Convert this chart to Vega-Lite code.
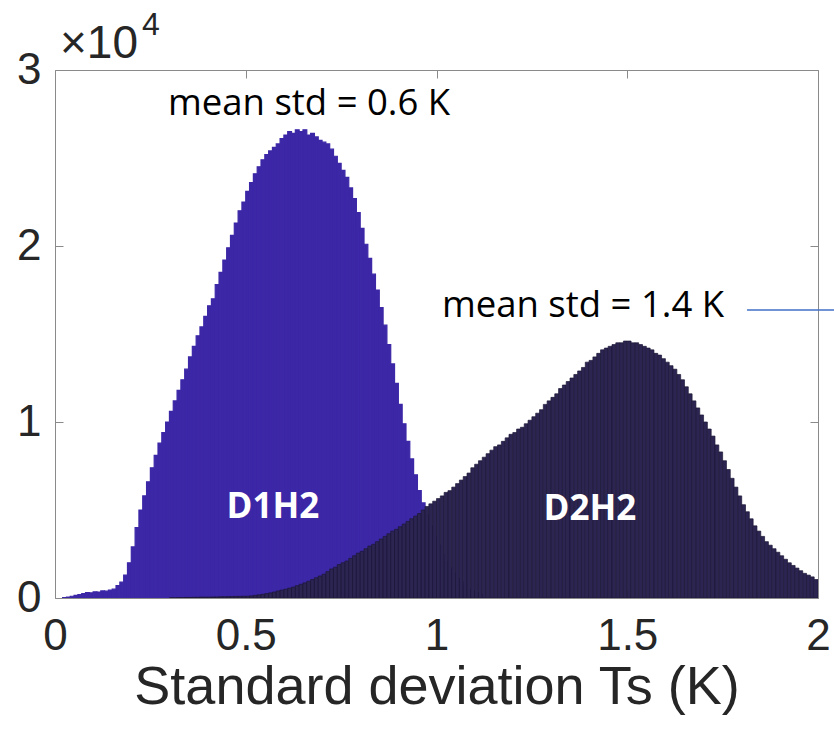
{
  "$schema": "https://vega.github.io/schema/vega-lite/v6.json",
  "width": 763,
  "height": 528,
  "autosize": {"type": "none"},
  "padding": {"left": 55, "top": 70, "right": 16, "bottom": 138},
  "background": "white",
  "config": {
    "view": {"stroke": "#8a8a8a", "strokeWidth": 1},
    "axis": {"grid": false, "domain": false, "tickColor": "#8a8a8a", "tickSize": -8, "tickWidth": 1,
      "labelFont": "Liberation Sans", "labelFontSize": 44, "labelColor": "#262626",
      "titleFont": "Liberation Sans", "titleFontSize": 54, "titleFontWeight": "normal", "titleColor": "#262626"}
  },
  "datasets": {
    "d1": [
      {"x0":0.02,"x1":0.03,"n":20},{"x0":0.03,"x1":0.04,"n":50},{"x0":0.04,"x1":0.05,"n":100},{"x0":0.05,"x1":0.06,"n":150},
      {"x0":0.06,"x1":0.07,"n":200},{"x0":0.07,"x1":0.08,"n":250},{"x0":0.08,"x1":0.09,"n":300},{"x0":0.09,"x1":0.10,"n":290},
      {"x0":0.10,"x1":0.11,"n":350},{"x0":0.11,"x1":0.12,"n":340},{"x0":0.12,"x1":0.13,"n":400},{"x0":0.13,"x1":0.14,"n":390},
      {"x0":0.14,"x1":0.15,"n":450},{"x0":0.15,"x1":0.16,"n":500},{"x0":0.16,"x1":0.17,"n":700},{"x0":0.17,"x1":0.18,"n":900},
      {"x0":0.18,"x1":0.19,"n":1300},{"x0":0.19,"x1":0.20,"n":2000},{"x0":0.20,"x1":0.21,"n":2900},{"x0":0.21,"x1":0.22,"n":4000},
      {"x0":0.22,"x1":0.23,"n":5000},{"x0":0.23,"x1":0.24,"n":5800},{"x0":0.24,"x1":0.25,"n":6600},{"x0":0.25,"x1":0.26,"n":7400},
      {"x0":0.26,"x1":0.27,"n":8100},{"x0":0.27,"x1":0.28,"n":8800},{"x0":0.28,"x1":0.29,"n":9400},{"x0":0.29,"x1":0.30,"n":10000},
      {"x0":0.30,"x1":0.31,"n":10600},{"x0":0.31,"x1":0.32,"n":11200},{"x0":0.32,"x1":0.33,"n":11800},{"x0":0.33,"x1":0.34,"n":12400},
      {"x0":0.34,"x1":0.35,"n":13000},{"x0":0.35,"x1":0.36,"n":13700},{"x0":0.36,"x1":0.37,"n":14300},{"x0":0.37,"x1":0.38,"n":14900},
      {"x0":0.38,"x1":0.39,"n":15400},{"x0":0.39,"x1":0.40,"n":16000},{"x0":0.40,"x1":0.41,"n":16600},{"x0":0.41,"x1":0.42,"n":17000},
      {"x0":0.42,"x1":0.43,"n":17800},{"x0":0.43,"x1":0.44,"n":18500},{"x0":0.44,"x1":0.45,"n":19200},{"x0":0.45,"x1":0.46,"n":19900},
      {"x0":0.46,"x1":0.47,"n":20600},{"x0":0.47,"x1":0.48,"n":21300},{"x0":0.48,"x1":0.49,"n":22000},{"x0":0.49,"x1":0.50,"n":22500},
      {"x0":0.50,"x1":0.51,"n":23100},{"x0":0.51,"x1":0.52,"n":23600},{"x0":0.52,"x1":0.53,"n":24100},{"x0":0.53,"x1":0.54,"n":24500},
      {"x0":0.54,"x1":0.55,"n":24900},{"x0":0.55,"x1":0.56,"n":25200},{"x0":0.56,"x1":0.57,"n":25400},{"x0":0.57,"x1":0.58,"n":25600},
      {"x0":0.58,"x1":0.59,"n":25800},{"x0":0.59,"x1":0.60,"n":26100},{"x0":0.60,"x1":0.61,"n":26300},{"x0":0.61,"x1":0.62,"n":26500},
      {"x0":0.62,"x1":0.63,"n":26400},{"x0":0.63,"x1":0.64,"n":26600},{"x0":0.64,"x1":0.65,"n":26500},{"x0":0.65,"x1":0.66,"n":26600},
      {"x0":0.66,"x1":0.67,"n":26300},{"x0":0.67,"x1":0.68,"n":26400},{"x0":0.68,"x1":0.69,"n":26200},{"x0":0.69,"x1":0.70,"n":26000},
      {"x0":0.70,"x1":0.71,"n":25900},{"x0":0.71,"x1":0.72,"n":25800},{"x0":0.72,"x1":0.73,"n":25500},{"x0":0.73,"x1":0.74,"n":25100},
      {"x0":0.74,"x1":0.75,"n":24700},{"x0":0.75,"x1":0.76,"n":24300},{"x0":0.76,"x1":0.77,"n":23900},{"x0":0.77,"x1":0.78,"n":23300},
      {"x0":0.78,"x1":0.79,"n":22700},{"x0":0.79,"x1":0.80,"n":21900},{"x0":0.80,"x1":0.81,"n":21000},{"x0":0.81,"x1":0.82,"n":20100},
      {"x0":0.82,"x1":0.83,"n":19300},{"x0":0.83,"x1":0.84,"n":18400},{"x0":0.84,"x1":0.85,"n":17500},{"x0":0.85,"x1":0.86,"n":16500},
      {"x0":0.86,"x1":0.87,"n":15500},{"x0":0.87,"x1":0.88,"n":14400},{"x0":0.88,"x1":0.89,"n":13300},{"x0":0.89,"x1":0.90,"n":12200},
      {"x0":0.90,"x1":0.91,"n":11000},{"x0":0.91,"x1":0.92,"n":9900},{"x0":0.92,"x1":0.93,"n":8900},{"x0":0.93,"x1":0.94,"n":7900},
      {"x0":0.94,"x1":0.95,"n":7000},{"x0":0.95,"x1":0.96,"n":6100},{"x0":0.96,"x1":0.97,"n":5400},{"x0":0.97,"x1":0.98,"n":4700},
      {"x0":0.98,"x1":0.99,"n":4100},{"x0":0.99,"x1":1.00,"n":3500},{"x0":1.00,"x1":1.01,"n":3000},{"x0":1.01,"x1":1.02,"n":2500},
      {"x0":1.02,"x1":1.03,"n":2100},{"x0":1.03,"x1":1.04,"n":1700},{"x0":1.04,"x1":1.05,"n":1400},{"x0":1.05,"x1":1.06,"n":1100},
      {"x0":1.06,"x1":1.07,"n":900},{"x0":1.07,"x1":1.08,"n":700},{"x0":1.08,"x1":1.09,"n":500},{"x0":1.09,"x1":1.10,"n":400},
      {"x0":1.10,"x1":1.11,"n":300},{"x0":1.11,"x1":1.12,"n":200}
    ],
    "d2": [
      {"x0":0.30,"x1":0.31,"n":10},{"x0":0.31,"x1":0.32,"n":10},{"x0":0.32,"x1":0.33,"n":20},{"x0":0.33,"x1":0.34,"n":20},
      {"x0":0.34,"x1":0.35,"n":30},{"x0":0.35,"x1":0.36,"n":30},{"x0":0.36,"x1":0.37,"n":40},{"x0":0.37,"x1":0.38,"n":40},
      {"x0":0.38,"x1":0.39,"n":50},{"x0":0.39,"x1":0.40,"n":50},{"x0":0.40,"x1":0.41,"n":50},{"x0":0.41,"x1":0.42,"n":60},
      {"x0":0.42,"x1":0.43,"n":60},{"x0":0.43,"x1":0.44,"n":70},{"x0":0.44,"x1":0.45,"n":70},{"x0":0.45,"x1":0.46,"n":80},
      {"x0":0.46,"x1":0.47,"n":80},{"x0":0.47,"x1":0.48,"n":90},{"x0":0.48,"x1":0.49,"n":90},{"x0":0.49,"x1":0.50,"n":100},
      {"x0":0.50,"x1":0.51,"n":100},{"x0":0.51,"x1":0.52,"n":120},{"x0":0.52,"x1":0.53,"n":150},{"x0":0.53,"x1":0.54,"n":180},
      {"x0":0.54,"x1":0.55,"n":210},{"x0":0.55,"x1":0.56,"n":250},{"x0":0.56,"x1":0.57,"n":290},{"x0":0.57,"x1":0.58,"n":340},
      {"x0":0.58,"x1":0.59,"n":400},{"x0":0.59,"x1":0.60,"n":450},{"x0":0.60,"x1":0.61,"n":500},{"x0":0.61,"x1":0.62,"n":560},
      {"x0":0.62,"x1":0.63,"n":620},{"x0":0.63,"x1":0.64,"n":700},{"x0":0.64,"x1":0.65,"n":780},{"x0":0.65,"x1":0.66,"n":860},
      {"x0":0.66,"x1":0.67,"n":950},{"x0":0.67,"x1":0.68,"n":1050},{"x0":0.68,"x1":0.69,"n":1150},{"x0":0.69,"x1":0.70,"n":1250},
      {"x0":0.70,"x1":0.71,"n":1350},{"x0":0.71,"x1":0.72,"n":1500},{"x0":0.72,"x1":0.73,"n":1650},{"x0":0.73,"x1":0.74,"n":1750},
      {"x0":0.74,"x1":0.75,"n":1900},{"x0":0.75,"x1":0.76,"n":2000},{"x0":0.76,"x1":0.77,"n":2100},{"x0":0.77,"x1":0.78,"n":2250},
      {"x0":0.78,"x1":0.79,"n":2400},{"x0":0.79,"x1":0.80,"n":2550},{"x0":0.80,"x1":0.81,"n":2650},{"x0":0.81,"x1":0.82,"n":2800},
      {"x0":0.82,"x1":0.83,"n":2950},{"x0":0.83,"x1":0.84,"n":3050},{"x0":0.84,"x1":0.85,"n":3200},{"x0":0.85,"x1":0.86,"n":3350},
      {"x0":0.86,"x1":0.87,"n":3500},{"x0":0.87,"x1":0.88,"n":3650},{"x0":0.88,"x1":0.89,"n":3800},{"x0":0.89,"x1":0.90,"n":3900},
      {"x0":0.90,"x1":0.91,"n":4050},{"x0":0.91,"x1":0.92,"n":4200},{"x0":0.92,"x1":0.93,"n":4350},{"x0":0.93,"x1":0.94,"n":4500},
      {"x0":0.94,"x1":0.95,"n":4650},{"x0":0.95,"x1":0.96,"n":4800},{"x0":0.96,"x1":0.97,"n":5000},{"x0":0.97,"x1":0.98,"n":5200},
      {"x0":0.98,"x1":0.99,"n":5350},{"x0":0.99,"x1":1.00,"n":5500},{"x0":1.00,"x1":1.01,"n":5650},{"x0":1.01,"x1":1.02,"n":5800},
      {"x0":1.02,"x1":1.03,"n":6000},{"x0":1.03,"x1":1.04,"n":6100},{"x0":1.04,"x1":1.05,"n":6300},{"x0":1.05,"x1":1.06,"n":6500},
      {"x0":1.06,"x1":1.07,"n":6700},{"x0":1.07,"x1":1.08,"n":6900},{"x0":1.08,"x1":1.09,"n":7100},{"x0":1.09,"x1":1.10,"n":7400},
      {"x0":1.10,"x1":1.11,"n":7600},{"x0":1.11,"x1":1.12,"n":7800},{"x0":1.12,"x1":1.13,"n":8000},{"x0":1.13,"x1":1.14,"n":8200},
      {"x0":1.14,"x1":1.15,"n":8400},{"x0":1.15,"x1":1.16,"n":8600},{"x0":1.16,"x1":1.17,"n":8700},{"x0":1.17,"x1":1.18,"n":8900},
      {"x0":1.18,"x1":1.19,"n":9100},{"x0":1.19,"x1":1.20,"n":9300},{"x0":1.20,"x1":1.21,"n":9400},{"x0":1.21,"x1":1.22,"n":9600},
      {"x0":1.22,"x1":1.23,"n":9700},{"x0":1.23,"x1":1.24,"n":9900},{"x0":1.24,"x1":1.25,"n":10100},{"x0":1.25,"x1":1.26,"n":10300},
      {"x0":1.26,"x1":1.27,"n":10500},{"x0":1.27,"x1":1.28,"n":10700},{"x0":1.28,"x1":1.29,"n":11000},{"x0":1.29,"x1":1.30,"n":11200},
      {"x0":1.30,"x1":1.31,"n":11400},{"x0":1.31,"x1":1.32,"n":11600},{"x0":1.32,"x1":1.33,"n":11900},{"x0":1.33,"x1":1.34,"n":12100},
      {"x0":1.34,"x1":1.35,"n":12300},{"x0":1.35,"x1":1.36,"n":12500},{"x0":1.36,"x1":1.37,"n":12700},{"x0":1.37,"x1":1.38,"n":12900},
      {"x0":1.38,"x1":1.39,"n":13100},{"x0":1.39,"x1":1.40,"n":13400},{"x0":1.40,"x1":1.41,"n":13500},{"x0":1.41,"x1":1.42,"n":13700},
      {"x0":1.42,"x1":1.43,"n":13900},{"x0":1.43,"x1":1.44,"n":14100},{"x0":1.44,"x1":1.45,"n":14200},{"x0":1.45,"x1":1.46,"n":14300},
      {"x0":1.46,"x1":1.47,"n":14400},{"x0":1.47,"x1":1.48,"n":14500},{"x0":1.48,"x1":1.49,"n":14500},{"x0":1.49,"x1":1.50,"n":14600},
      {"x0":1.50,"x1":1.51,"n":14600},{"x0":1.51,"x1":1.52,"n":14500},{"x0":1.52,"x1":1.53,"n":14500},{"x0":1.53,"x1":1.54,"n":14400},
      {"x0":1.54,"x1":1.55,"n":14300},{"x0":1.55,"x1":1.56,"n":14200},{"x0":1.56,"x1":1.57,"n":14100},{"x0":1.57,"x1":1.58,"n":13900},
      {"x0":1.58,"x1":1.59,"n":13800},{"x0":1.59,"x1":1.60,"n":13600},{"x0":1.60,"x1":1.61,"n":13400},{"x0":1.61,"x1":1.62,"n":13200},
      {"x0":1.62,"x1":1.63,"n":13000},{"x0":1.63,"x1":1.64,"n":12700},{"x0":1.64,"x1":1.65,"n":12400},{"x0":1.65,"x1":1.66,"n":12000},
      {"x0":1.66,"x1":1.67,"n":11600},{"x0":1.67,"x1":1.68,"n":11200},{"x0":1.68,"x1":1.69,"n":10800},{"x0":1.69,"x1":1.70,"n":10400},
      {"x0":1.70,"x1":1.71,"n":10000},{"x0":1.71,"x1":1.72,"n":9600},{"x0":1.72,"x1":1.73,"n":9200},{"x0":1.73,"x1":1.74,"n":8700},
      {"x0":1.74,"x1":1.75,"n":8300},{"x0":1.75,"x1":1.76,"n":7800},{"x0":1.76,"x1":1.77,"n":7300},{"x0":1.77,"x1":1.78,"n":6800},
      {"x0":1.78,"x1":1.79,"n":6300},{"x0":1.79,"x1":1.80,"n":5800},{"x0":1.80,"x1":1.81,"n":5300},{"x0":1.81,"x1":1.82,"n":4900},
      {"x0":1.82,"x1":1.83,"n":4500},{"x0":1.83,"x1":1.84,"n":4100},{"x0":1.84,"x1":1.85,"n":3800},{"x0":1.85,"x1":1.86,"n":3500},
      {"x0":1.86,"x1":1.87,"n":3200},{"x0":1.87,"x1":1.88,"n":3000},{"x0":1.88,"x1":1.89,"n":2800},{"x0":1.89,"x1":1.90,"n":2600},
      {"x0":1.90,"x1":1.91,"n":2400},{"x0":1.91,"x1":1.92,"n":2200},{"x0":1.92,"x1":1.93,"n":2000},{"x0":1.93,"x1":1.94,"n":1850},
      {"x0":1.94,"x1":1.95,"n":1700},{"x0":1.95,"x1":1.96,"n":1550},{"x0":1.96,"x1":1.97,"n":1400},{"x0":1.97,"x1":1.98,"n":1300},
      {"x0":1.98,"x1":1.99,"n":1200},{"x0":1.99,"x1":2.00,"n":1050}
    ]
  },
  "layer": [
    {
      "data": {"name": "d1"},
      "mark": {"type": "rect", "color": "#3c27a6", "stroke": "#3c27a6", "strokeWidth": 1.2, "clip": true},
      "encoding": {
        "x": {"field": "x0", "type": "quantitative", "scale": {"domain": [0, 2], "nice": false, "zero": false},
          "axis": {"orient": "bottom", "values": [0, 0.5, 1, 1.5, 2], "labelFlush": false, "labelPadding": 24, "labelExpr": "datum.value", "title": "Standard deviation Ts (K)", "titlePadding": 2}},
        "x2": {"field": "x1"},
        "y": {"field": "n", "type": "quantitative", "scale": {"domain": [0, 30000], "nice": false},
          "axis": {"orient": "left", "values": [0, 10000, 20000, 30000], "labelExpr": "datum.value / 10000", "labelPadding": 22, "title": null}},
        "y2": {"datum": 0}
      }
    },
    {
      "data": {"name": "d2"},
      "mark": {"type": "rect", "color": "#2c2552", "stroke": "#1c1736", "strokeWidth": 0.7, "clip": true},
      "encoding": {
        "x": {"field": "x0", "type": "quantitative", "axis": {"orient": "top", "values": [0, 0.5, 1, 1.5, 2], "labels": false, "title": null}},
        "x2": {"field": "x1"},
        "y": {"field": "n", "type": "quantitative", "axis": {"orient": "right", "values": [0, 10000, 20000, 30000], "labels": false, "title": null}},
        "y2": {"datum": 0}
      }
    },
    {
      "data": {"values": [{"x": 1.814, "x2": 2.042, "y": 16360}]},
      "mark": {"type": "rule", "color": "#3f6fc6", "strokeWidth": 1.4, "clip": false},
      "encoding": {
        "x": {"field": "x", "type": "quantitative", "axis": null},
        "x2": {"field": "x2"},
        "y": {"field": "y", "type": "quantitative", "axis": null}
      }
    },
    {
      "data": {"values": [
        {"t": "mean std = 0.6 K", "x": 0.666, "y": 27440},
        {"t": "mean std = 1.4 K", "x": 1.384, "y": 15970}
      ]},
      "mark": {"type": "text", "font": "Open Sans", "fontSize": 36.5, "color": "#000000", "align": "center", "baseline": "alphabetic", "clip": false},
      "encoding": {
        "x": {"field": "x", "type": "quantitative", "axis": null},
        "y": {"field": "y", "type": "quantitative", "axis": null},
        "text": {"field": "t"}
      }
    },
    {
      "data": {"values": [
        {"t": "D1H2", "x": 0.571, "y": 4545},
        {"t": "D2H2", "x": 1.402, "y": 4430}
      ]},
      "mark": {"type": "text", "font": "Open Sans", "fontSize": 35, "fontWeight": "bold", "color": "#ffffff", "align": "center", "baseline": "alphabetic"},
      "encoding": {
        "x": {"field": "x", "type": "quantitative", "axis": null},
        "y": {"field": "y", "type": "quantitative", "axis": null},
        "text": {"field": "t"}
      }
    },
    {
      "data": {"values": [
        {"t": "×10", "x": 0.013, "y": 30680, "s": "big"},
        {"t": "4", "x": 0.228, "y": 31990, "s": "small"}
      ]},
      "mark": {"type": "text", "font": "Liberation Sans", "color": "#262626", "align": "left", "baseline": "alphabetic", "clip": false},
      "encoding": {
        "x": {"field": "x", "type": "quantitative", "axis": null},
        "y": {"field": "y", "type": "quantitative", "axis": null},
        "text": {"field": "t"},
        "size": {"field": "s", "type": "nominal", "scale": {"domain": ["big", "small"], "range": [46, 32]}, "legend": null}
      }
    }
  ],
  "resolve": {"axis": {"x": "independent", "y": "independent"}}
}
